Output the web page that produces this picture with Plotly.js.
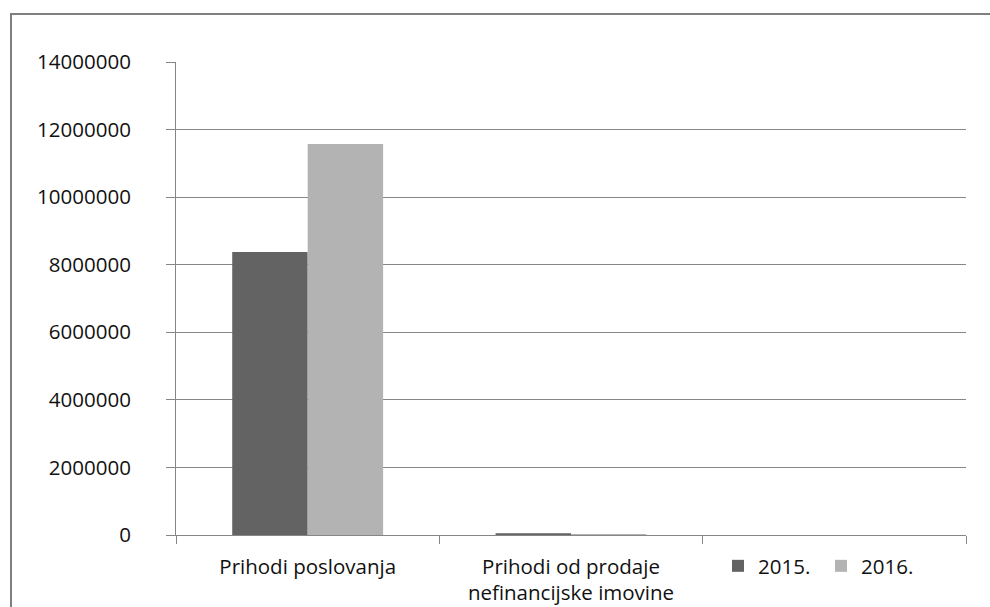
<!DOCTYPE html>
<html>
<head>
<meta charset="utf-8">
<script src="https://cdn.plot.ly/plotly-3.0.1.min.js"></script>
<style>html,body{margin:0;padding:0;background:#fff;}#chart{width:990px;height:607px;}</style>
</head>
<body>
<div id="chart"></div>
<script>
const categories = ["Prihodi poslovanja", "Prihodi od prodaje<br>nefinancijske imovine", " "];
const series2015 = [8380000, 50000, 0];
const series2016 = [11570000, 30000, 0];
const yTicks = [0, 2000000, 4000000, 6000000, 8000000, 10000000, 12000000, 14000000];
const yTickLabels = ["0", "2000000", "4000000", "6000000", "8000000", "10000000", "12000000", "14000000"];

const W = 990, H = 607;
const L = 176, R = 24, T = 62, B = 72;
const pw = W - L - R, ph = H - T - B;
const px = x => (x - L) / pw;
const py = y => (H - B - y) / ph;

const font = {family: "Open Sans, sans-serif", size: 20.5, color: "#111"};

const data = [
  {type: "bar", name: "2015.", x: categories, y: series2015,
   marker: {color: "#636363", line: {width: 0}}},
  {type: "bar", name: "2016.", x: categories, y: series2016,
   marker: {color: "#b3b3b3", line: {width: 0}}}
];

const layout = {
  width: W, height: H,
  margin: {l: L, r: R, t: T, b: B, pad: 0, autoexpand: false},
  paper_bgcolor: "#fff", plot_bgcolor: "#fff",
  font: font,
  bargap: 0.427, bargroupgap: 0,
  showlegend: true,
  legend: {orientation: "h", x: px(718), y: py(566), xanchor: "left", yanchor: "middle",
           font: font, entrywidth: 58, entrywidthmode: "pixels", tracegroupgap: 0,
           itemwidth: 30, bgcolor: "rgba(0,0,0,0)"},
  xaxis: {type: "category", tickson: "boundaries", ticks: "outside", ticklen: 8,
          tickcolor: "#868686", showline: true, linecolor: "#868686", linewidth: 1,
          showgrid: false, tickfont: font, ticklabelstandoff: 13, automargin: false},
  yaxis: {range: [0, 14000000], tickmode: "array", tickvals: yTicks, ticktext: yTickLabels,
          ticks: "outside", ticklen: 9, tickcolor: "#868686", showline: true,
          linecolor: "#868686", linewidth: 1, showgrid: true, gridcolor: "#868686",
          gridwidth: 1, zeroline: false, tickfont: font, ticklabelstandoff: 31,
          automargin: false},
  shapes: [
    {type: "rect", xref: "paper", yref: "paper", x0: px(11), x1: px(1000),
     y0: py(620), y1: py(14), line: {color: "#7f7f7f", width: 2}, layer: "below"}
  ]
};

Plotly.newPlot("chart", data, layout, {displayModeBar: false, staticPlot: true});
</script>
</body>
</html>
